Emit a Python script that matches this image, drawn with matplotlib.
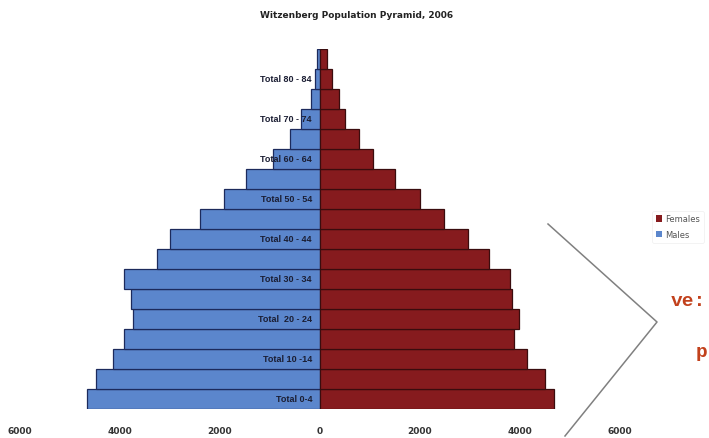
import matplotlib.pyplot as plt
from matplotlib.patches import Patch
from matplotlib.lines import Line2D

# Age groups, youngest first
ages = ['0-4', '5-9', '10-14', '15-19', '20-24', '25-29', '30-34', '35-39',
        '40-44', '45-49', '50-54', '55-59', '60-64', '65-69', '70-74',
        '75-79', '80-84', '85+']
males = [4670, 4480, 4150, 3930, 3750, 3790, 3930, 3270, 3000, 2400,
         1930, 1480, 950, 610, 390, 190, 100, 70]
females = [4670, 4500, 4130, 3870, 3970, 3830, 3790, 3370, 2950, 2470,
           1990, 1500, 1050, 770, 500, 370, 230, 140]
# labels shown on every other bar
shown_labels = {0: 'Total 0-4', 2: 'Total 10 -14', 4: 'Total  20 - 24',
                6: 'Total 30 - 34', 8: 'Total 40 - 44', 10: 'Total 50 - 54',
                12: 'Total 60 - 64', 14: 'Total 70 - 74', 16: 'Total 80 - 84'}
xticks = [-6000, -4000, -2000, 0, 2000, 4000, 6000]

blue = '#5B86CC'
red = '#861B1E'

fig = plt.figure(figsize=(7.09, 4.39), dpi=100)
ax = fig.add_axes([20 / 709, 29 / 439, 600 / 709, 360 / 439])

pos = list(range(len(ages)))
ax.barh(pos, [-m for m in males], height=1.0, color=blue,
        edgecolor='#1C2A5C', linewidth=0.9)
ax.barh(pos, females, height=1.0, color=red,
        edgecolor='#3A0C0E', linewidth=0.9)

for i, lab in shown_labels.items():
    ax.text(-160, i, lab, ha='right', va='center', fontsize=6.5,
            color='#1B1E33', fontweight='bold', family='Liberation Sans')

ax.set_xlim(-6000, 6000)
ax.set_ylim(-0.5, len(ages) - 0.5)
ax.set_xticks(xticks)
ax.set_xticklabels([str(abs(v)) for v in xticks], fontsize=6.5,
                   fontweight='bold', color='#333333')
ax.tick_params(axis='x', length=0, pad=12)
ax.set_yticks([])
for s in ax.spines.values():
    s.set_visible(False)

fig.text(357 / 709, 1 - 16 / 439, 'Witzenberg Population Pyramid, 2006',
         ha='center', va='center', fontsize=6.5, fontweight='bold',
         color='#222222')

handles = [Patch(facecolor=red, edgecolor='none', label='Females'),
           Patch(facecolor=blue, edgecolor='none', label='Males')]
leg = fig.legend(handles=handles, loc='upper left',
                 bbox_to_anchor=(648 / 709, 1 - 208 / 439), fontsize=6,
                 frameon=True, handlelength=0.8, handleheight=0.8,
                 handletextpad=0.4, labelspacing=0.8, borderpad=0.4)
leg.get_frame().set_edgecolor('#eeeeee')
leg.get_frame().set_linewidth(0.6)
for t in leg.get_texts():
    t.set_color('#555555')

# grey chevron and overlay text
chev_x = [548 / 709, 657 / 709, 565 / 709]
chev_y = [1 - 225 / 439, 1 - 323 / 439, 1 - 437 / 439]
fig.add_artist(Line2D(chev_x, chev_y, color='#808080', linewidth=1.1))
fig.text(671 / 709, 1 - 306 / 439, 've:', fontsize=14, fontweight='bold',
         family='Liberation Mono', color='#C2411C', ha='left', va='baseline')
fig.text(696 / 709, 1 - 357 / 439, 'p', fontsize=14, fontweight='bold',
         family='Liberation Mono', color='#C2411C', ha='left', va='baseline')

fig.savefig('out.png', dpi=100)
